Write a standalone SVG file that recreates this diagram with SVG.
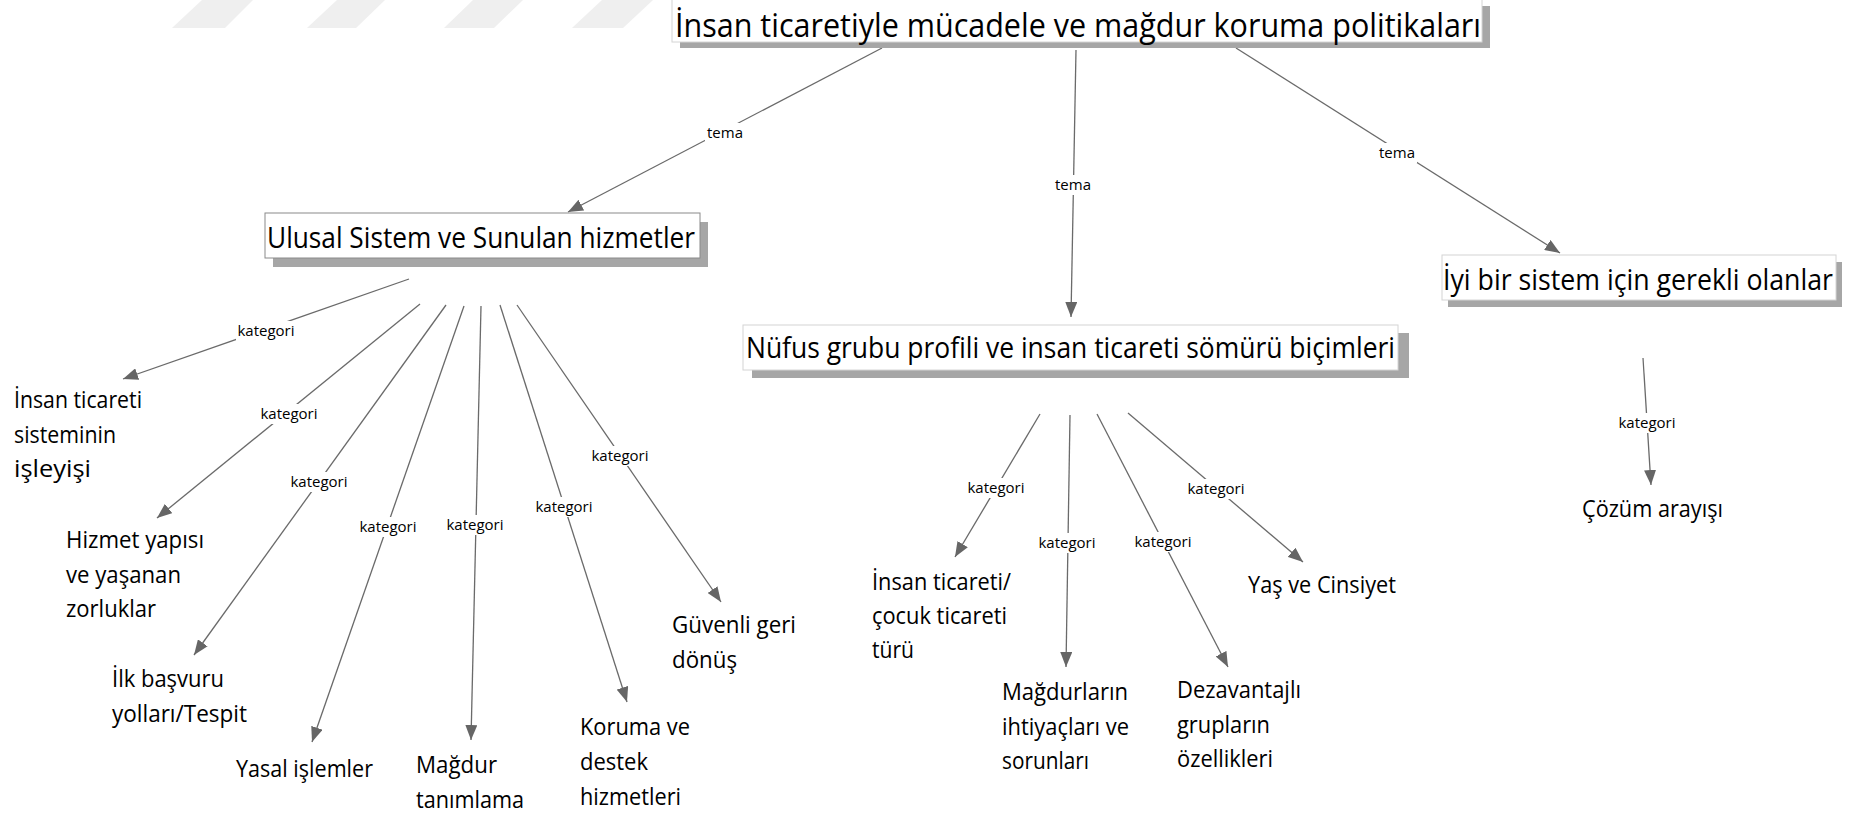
<svg xmlns="http://www.w3.org/2000/svg" width="1849" height="817" viewBox="0 0 1849 817">
<style>
.bg{fill:#ffffff}
.wm{fill:#efefef}
.shadow{fill:#a6a6a6}
.box{fill:#ffffff;stroke:#d4d4d4;stroke-width:1}
.box2{fill:#ffffff;stroke:#8a8a8a;stroke-width:1}
.title{font-family:"Open Sans","Liberation Sans",sans-serif;fill:#000}
.leaf{font-family:"Open Sans","Liberation Sans",sans-serif;font-size:24px;fill:#000}
.lbl{font-family:"Open Sans","Liberation Sans",sans-serif;font-size:15px;fill:#000;text-anchor:middle}
.lblbg{fill:#ffffff}
.edge{stroke:#6a6a6a;stroke-width:1.3;fill:none;marker-end:url(#arr)}
</style>
<defs>
<marker id="arr" markerUnits="userSpaceOnUse" markerWidth="16" markerHeight="12" refX="15" refY="6" orient="auto">
<path d="M0,0 L15,6 L0,12 z" fill="#666666"/>
</marker>
</defs>
<rect class="bg" x="0" y="0" width="1849" height="817"/>
<g id="watermark">
<polygon class="wm" points="202,0 253,0 225,28 172,28"/>
<polygon class="wm" points="337,0 385,0 356,28 307,28"/>
<polygon class="wm" points="473,0 523,0 494,28 444,28"/>
<polygon class="wm" points="602,0 653,0 623,28 572,28"/>
</g>
<g id="connectors">
<line class="edge" x1="882" y1="48" x2="568" y2="212"/>
<line class="edge" x1="1076" y1="50" x2="1071" y2="317"/>
<line class="edge" x1="1236" y1="48" x2="1560" y2="253"/>
<line class="edge" x1="409" y1="279" x2="123" y2="379"/>
<line class="edge" x1="420" y1="304" x2="157" y2="518"/>
<line class="edge" x1="446" y1="305" x2="194" y2="655"/>
<line class="edge" x1="464" y1="306" x2="312" y2="742"/>
<line class="edge" x1="481" y1="306" x2="471" y2="740"/>
<line class="edge" x1="500" y1="305" x2="627" y2="702"/>
<line class="edge" x1="517" y1="305" x2="721" y2="602"/>
<line class="edge" x1="1040" y1="414" x2="955" y2="557"/>
<line class="edge" x1="1070" y1="415" x2="1066" y2="667"/>
<line class="edge" x1="1097" y1="414" x2="1228" y2="667"/>
<line class="edge" x1="1128" y1="413" x2="1303" y2="562"/>
<line class="edge" x1="1643" y1="358" x2="1651" y2="485"/>
<g id="labels">
<rect class="lblbg" x="705" y="123" width="40" height="20"/><text class="lbl" x="725" y="138">tema</text>
<rect class="lblbg" x="1053" y="175" width="40" height="20"/><text class="lbl" x="1073" y="190">tema</text>
<rect class="lblbg" x="1377" y="143" width="40" height="20"/><text class="lbl" x="1397" y="158">tema</text>
<rect class="lblbg" x="236" y="321" width="60" height="20"/><text class="lbl" x="266" y="336">kategori</text>
<rect class="lblbg" x="259" y="404" width="60" height="20"/><text class="lbl" x="289" y="419">kategori</text>
<rect class="lblbg" x="289" y="472" width="60" height="20"/><text class="lbl" x="319" y="487">kategori</text>
<rect class="lblbg" x="358" y="517" width="60" height="20"/><text class="lbl" x="388" y="532">kategori</text>
<rect class="lblbg" x="445" y="515" width="60" height="20"/><text class="lbl" x="475" y="530">kategori</text>
<rect class="lblbg" x="534" y="497" width="60" height="20"/><text class="lbl" x="564" y="512">kategori</text>
<rect class="lblbg" x="590" y="446" width="60" height="20"/><text class="lbl" x="620" y="461">kategori</text>
<rect class="lblbg" x="966" y="478" width="60" height="20"/><text class="lbl" x="996" y="493">kategori</text>
<rect class="lblbg" x="1037" y="533" width="60" height="20"/><text class="lbl" x="1067" y="548">kategori</text>
<rect class="lblbg" x="1133" y="532" width="60" height="20"/><text class="lbl" x="1163" y="547">kategori</text>
<rect class="lblbg" x="1186" y="479" width="60" height="20"/><text class="lbl" x="1216" y="494">kategori</text>
<rect class="lblbg" x="1617" y="413" width="60" height="20"/><text class="lbl" x="1647" y="428">kategori</text>
</g>
</g>
<g id="root">
<rect class="shadow" x="680" y="6" width="810" height="42"/>
<rect class="box" x="672" y="-1" width="810" height="43"/>
<text class="title" x="675" y="37" font-size="32" textLength="806" lengthAdjust="spacingAndGlyphs">İnsan ticaretiyle mücadele ve mağdur koruma politikaları</text>
</g>
<g id="ulusal">
<rect class="shadow" x="273" y="222" width="435" height="45"/>
<rect class="box2" x="265" y="213" width="435" height="45"/>
<text class="title" x="267" y="248" font-size="29" textLength="428" lengthAdjust="spacingAndGlyphs">Ulusal Sistem ve Sunulan hizmetler</text>
</g>
<g id="nufus">
<rect class="shadow" x="752" y="333" width="657" height="45"/>
<rect class="box" x="743" y="325" width="655" height="45"/>
<text class="title" x="746" y="358" font-size="29" textLength="649" lengthAdjust="spacingAndGlyphs">Nüfus grubu profili ve insan ticareti sömürü biçimleri</text>
</g>
<g id="iyi">
<rect class="shadow" x="1448" y="262" width="394" height="45"/>
<rect class="box" x="1442" y="255" width="394" height="45"/>
<text class="title" x="1443" y="290" font-size="29" textLength="390" lengthAdjust="spacingAndGlyphs">İyi bir sistem için gerekli olanlar</text>
</g>
<g id="leaf-isleyis">
<text class="leaf" x="14" y="408" textLength="128" lengthAdjust="spacingAndGlyphs">İnsan ticareti</text>
<text class="leaf" x="14" y="443" textLength="102" lengthAdjust="spacingAndGlyphs">sisteminin</text>
<text class="leaf" x="14" y="477" textLength="77" lengthAdjust="spacingAndGlyphs">işleyişi</text>
</g>
<g id="leaf-hizmet">
<text class="leaf" x="66" y="548" textLength="138" lengthAdjust="spacingAndGlyphs">Hizmet yapısı</text>
<text class="leaf" x="66" y="583" textLength="115" lengthAdjust="spacingAndGlyphs">ve yaşanan</text>
<text class="leaf" x="66" y="617" textLength="90" lengthAdjust="spacingAndGlyphs">zorluklar</text>
</g>
<g id="leaf-ilk">
<text class="leaf" x="112" y="687" textLength="112" lengthAdjust="spacingAndGlyphs">İlk başvuru</text>
<text class="leaf" x="112" y="722" textLength="135" lengthAdjust="spacingAndGlyphs">yolları/Tespit</text>
</g>
<g id="leaf-yasal">
<text class="leaf" x="236" y="777" textLength="137" lengthAdjust="spacingAndGlyphs">Yasal işlemler</text>
</g>
<g id="leaf-magdur">
<text class="leaf" x="416" y="773" textLength="81" lengthAdjust="spacingAndGlyphs">Mağdur</text>
<text class="leaf" x="416" y="808" textLength="108" lengthAdjust="spacingAndGlyphs">tanımlama</text>
</g>
<g id="leaf-koruma">
<text class="leaf" x="580" y="735" textLength="110" lengthAdjust="spacingAndGlyphs">Koruma ve</text>
<text class="leaf" x="580" y="770" textLength="68" lengthAdjust="spacingAndGlyphs">destek</text>
<text class="leaf" x="580" y="805" textLength="101" lengthAdjust="spacingAndGlyphs">hizmetleri</text>
</g>
<g id="leaf-guvenli">
<text class="leaf" x="672" y="633" textLength="124" lengthAdjust="spacingAndGlyphs">Güvenli geri</text>
<text class="leaf" x="672" y="668" textLength="65" lengthAdjust="spacingAndGlyphs">dönüş</text>
</g>
<g id="leaf-tur">
<text class="leaf" x="872" y="590" textLength="139" lengthAdjust="spacingAndGlyphs">İnsan ticareti/</text>
<text class="leaf" x="872" y="624" textLength="135" lengthAdjust="spacingAndGlyphs">çocuk ticareti</text>
<text class="leaf" x="872" y="658" textLength="42" lengthAdjust="spacingAndGlyphs">türü</text>
</g>
<g id="leaf-ihtiyac">
<text class="leaf" x="1002" y="700" textLength="126" lengthAdjust="spacingAndGlyphs">Mağdurların</text>
<text class="leaf" x="1002" y="735" textLength="127" lengthAdjust="spacingAndGlyphs">ihtiyaçları ve</text>
<text class="leaf" x="1002" y="769" textLength="87" lengthAdjust="spacingAndGlyphs">sorunları</text>
</g>
<g id="leaf-dezavantajli">
<text class="leaf" x="1177" y="698" textLength="124" lengthAdjust="spacingAndGlyphs">Dezavantajlı</text>
<text class="leaf" x="1177" y="733" textLength="93" lengthAdjust="spacingAndGlyphs">grupların</text>
<text class="leaf" x="1177" y="767" textLength="96" lengthAdjust="spacingAndGlyphs">özellikleri</text>
</g>
<g id="leaf-yas">
<text class="leaf" x="1248" y="593" textLength="148" lengthAdjust="spacingAndGlyphs">Yaş ve Cinsiyet</text>
</g>
<g id="leaf-cozum">
<text class="leaf" x="1582" y="517" textLength="141" lengthAdjust="spacingAndGlyphs">Çözüm arayışı</text>
</g>
</svg>
